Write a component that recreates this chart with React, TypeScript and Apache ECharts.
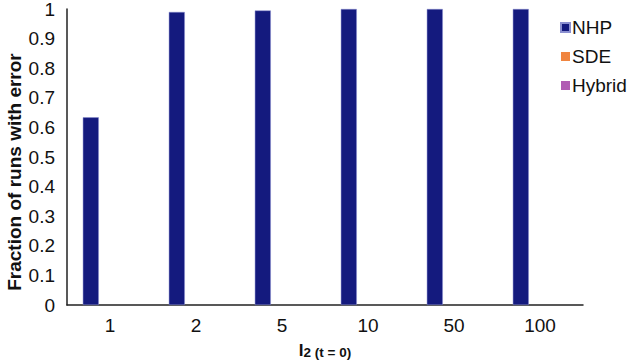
import React, { useEffect, useRef } from "react";
import * as echarts from "echarts";

const categories = ["1", "2", "5", "10", "50", "100"];
const nhpValues = [0.634, 0.99, 0.995, 1, 1, 1];
const sdeValues = [0, 0, 0, 0, 0, 0];
const hybridValues = [0, 0, 0, 0, 0, 0];
const yTicks = [0, 0.1, 0.2, 0.3, 0.4, 0.5, 0.6, 0.7, 0.8, 0.9, 1];

const FONT = "'Liberation Sans', Arial, Helvetica, sans-serif";

export default function App() {
  const ref = useRef<HTMLDivElement>(null);
  useEffect(() => {
    if (!ref.current) return;
    const chart = echarts.init(ref.current, undefined, { renderer: "svg" });
    chart.setOption({
      animation: false,
      backgroundColor: "#ffffff",
      textStyle: { fontFamily: FONT },
      grid: { left: 67, right: 46, top: 9, bottom: 58, containLabel: false, outerBoundsMode: "none" },
      legend: {
        orient: "vertical",
        left: 555,
        top: 13,
        itemWidth: 9,
        itemHeight: 9,
        itemGap: 10,
        icon: "rect",
        textStyle: { fontFamily: FONT, fontSize: 19, color: "#111", padding: [0, 0, 0, -3] },
        data: ["NHP", "SDE", "Hybrid"],
      },
      xAxis: {
        type: "category",
        data: categories,
        axisLine: { lineStyle: { color: "#222", width: 1.5 } },
        axisTick: { show: false },
        axisLabel: { fontFamily: FONT, fontSize: 19, color: "#111", margin: 11 },
        name: "{a|I}{b|2 (t = 0)}",
        nameLocation: "middle",
        nameGap: 37,
        nameTextStyle: {
          rich: {
            a: { fontFamily: FONT, fontSize: 17, lineHeight: 17, fontWeight: "bold", color: "#111", verticalAlign: "bottom" },
            b: { fontFamily: FONT, fontSize: 13.5, lineHeight: 13.5, fontWeight: "bold", color: "#111", verticalAlign: "bottom" },
          },
        },
      },
      yAxis: {
        type: "value",
        min: 0,
        max: 1,
        interval: 0.1,
        axisLine: { show: true, lineStyle: { color: "#222", width: 1.5 } },
        axisTick: { show: false },
        splitLine: { show: false },
        axisLabel: {
          fontFamily: FONT,
          fontSize: 19,
          color: "#111",
          margin: 12,
          formatter: (v: number) => {
            const t = yTicks.find((x) => Math.abs(x - v) < 1e-6);
            return t === undefined ? "" : String(t);
          },
        },
      },
      graphic: [
        {
          type: "text",
          x: 14,
          y: 172,
          rotation: Math.PI / 2,
          style: {
            text: "Fraction of runs with error",
            fontFamily: FONT,
            fontSize: 19,
            fontWeight: "bold",
            fill: "#111",
            textAlign: "center",
            textVerticalAlign: "middle",
          },
        },
      ],
      series: [
        {
          name: "NHP",
          type: "bar",
          data: nhpValues,
          barWidth: 16,
          barGap: "20%",
          itemStyle: { color: "#141a7e", borderColor: "#8a8fd0", borderWidth: 0.5 },
        },
        {
          name: "SDE",
          type: "bar",
          data: sdeValues,
          barWidth: 16,
          barGap: "20%",
          itemStyle: { color: "#f08540" },
        },
        {
          name: "Hybrid",
          type: "bar",
          data: hybridValues,
          barWidth: 16,
          barGap: "20%",
          itemStyle: { color: "#b05cb3" },
        },
      ],
    });
    return () => chart.dispose();
  }, []);
  return <div ref={ref} style={{ width: 629, height: 363, position: "absolute", left: 0, top: 0 }} />;
}
